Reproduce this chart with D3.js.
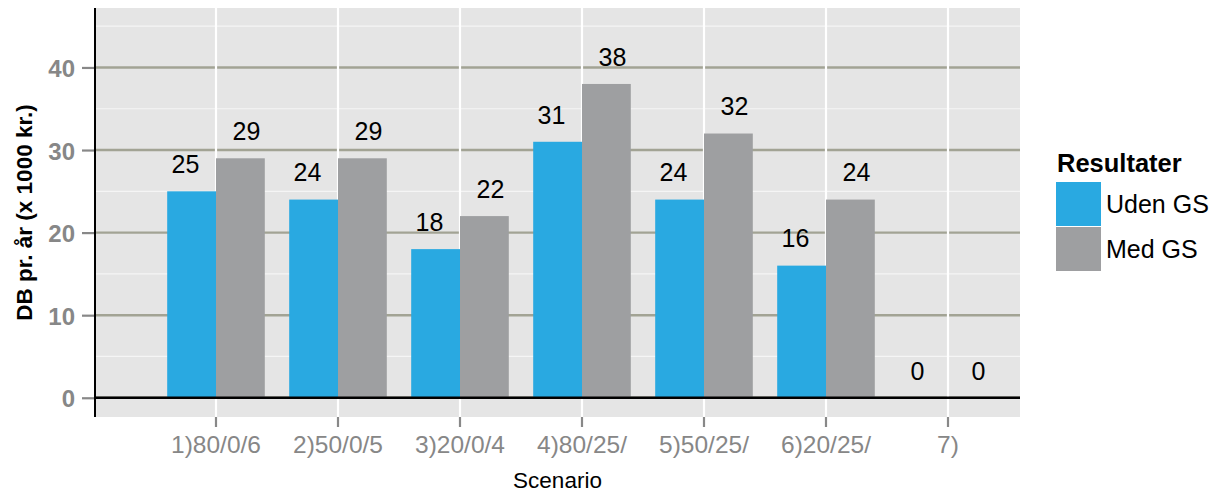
<!DOCTYPE html>
<html>
<head>
<meta charset="utf-8">
<script src="https://cdn.jsdelivr.net/npm/d3@7"></script>
<style>
    body { margin: 0; background: #fff; }
    svg text { font-family: "Liberation Sans", Arial, sans-serif; }
</style>
</head>
<body>
<div id="barChart"></div>
<script>
const categories = ["1)80/0/6", "2)50/0/5", "3)20/0/4", "4)80/25/", "5)50/25/", "6)20/25/", "7)"];
const seriesNames = ["Uden GS", "Med GS"];
const udenGS = [25, 24, 18, 31, 24, 16, 0];
const medGS = [29, 29, 22, 38, 32, 24, 0];
const yTicks = [0, 10, 20, 30, 40];
const yMinorTicks = [5, 15, 25, 35, 45];

class barChart {
    constructor() {
        this.width = 1221;
        this.height = 495;
        this.panel = { left: 95, right: 1020, top: 8, bottom: 417 };

        this.colors = d3.scaleOrdinal().domain(seriesNames).range(["#29a9e1", "#9e9fa1"]);

        // discrete axis, left side has more room than the right (like the original)
        this.x = d3.scaleBand()
            .domain(categories)
            .range([this.panel.left, this.panel.right])
            .paddingInner(0)
            .paddingOuter(0.291)
            .align(0.845);

        this.xBar = d3.scaleBand().domain(seriesNames).range([0, this.x.bandwidth()]).paddingOuter(0.25);
        this.xText = d3.scaleBand().domain(seriesNames).range([0, this.x.bandwidth()]);

        this.y = d3.scaleLinear().domain([-2.33, 47.2]).range([this.panel.bottom, this.panel.top]);

        this.svg = d3.select("#barChart").append("svg")
            .attr("width", this.width)
            .attr("height", this.height);
    }

    draw() {
        let p = this.panel;
        let svg = this.svg;

        svg.append("rect")
            .attr("x", p.left).attr("y", p.top)
            .attr("width", p.right - p.left).attr("height", p.bottom - p.top)
            .attr("fill", "#e5e5e5");

        // minor grid (white)
        svg.append("g").selectAll("line").data(yMinorTicks).enter().append("line")
            .attr("x1", p.left).attr("x2", p.right)
            .attr("y1", d => this.y(d)).attr("y2", d => this.y(d))
            .attr("stroke", "#f5f5f5").attr("stroke-width", 1.2);

        // major grid
        svg.append("g").selectAll("line").data(yTicks).enter().append("line")
            .attr("x1", p.left).attr("x2", p.right)
            .attr("y1", d => this.y(d)).attr("y2", d => this.y(d))
            .attr("stroke", "#a2a394").attr("stroke-width", 2.4);

        svg.append("g").selectAll("line").data(categories).enter().append("line")
            .attr("x1", d => this.x(d) + this.x.bandwidth() / 2)
            .attr("x2", d => this.x(d) + this.x.bandwidth() / 2)
            .attr("y1", p.top).attr("y2", p.bottom)
            .attr("stroke", "#ffffff").attr("stroke-width", 2.2);

        let rows = [];
        categories.forEach((c, i) => {
            rows.push({ cat: c, s: seriesNames[0], v: udenGS[i] });
            rows.push({ cat: c, s: seriesNames[1], v: medGS[i] });
        });

        svg.append("g").selectAll("rect").data(rows).enter().append("rect")
            .attr("x", d => this.x(d.cat) + this.xBar(d.s))
            .attr("width", this.xBar.bandwidth())
            .attr("y", d => this.y(d.v))
            .attr("height", d => this.y(0) - this.y(d.v))
            .attr("fill", d => this.colors(d.s));

        svg.append("g").selectAll("text").data(rows).enter().append("text")
            .attr("x", d => this.x(d.cat) + this.xText(d.s) + this.xText.bandwidth() / 2)
            .attr("y", d => this.y(d.v + 3.3))
            .attr("dy", "0.36em")
            .attr("text-anchor", "middle")
            .attr("font-size", 25)
            .attr("fill", "#000")
            .text(d => d.v);

        // zero line + left axis line
        svg.append("line")
            .attr("x1", p.left).attr("x2", p.right)
            .attr("y1", this.y(0)).attr("y2", this.y(0))
            .attr("stroke", "#000").attr("stroke-width", 2.6);
        svg.append("line")
            .attr("x1", p.left).attr("x2", p.left)
            .attr("y1", p.top).attr("y2", p.bottom)
            .attr("stroke", "#000").attr("stroke-width", 2);

        // axes
        let yAxis = d3.axisLeft(this.y).tickValues(yTicks).tickSize(12).tickPadding(7);
        let yG = svg.append("g").attr("transform", "translate(" + (p.left - 1) + ",0)").call(yAxis);
        yG.select(".domain").remove();
        yG.selectAll(".tick line").attr("stroke", "#888").attr("stroke-width", 2.2);
        yG.selectAll(".tick text")
            .style("font-size", "24px").style("font-weight", "bold")
            .attr("fill", "#878787")
            .attr("dy", "0.38em");

        let xAxis = d3.axisBottom(this.x).tickSize(10).tickPadding(9);
        let xG = svg.append("g").attr("transform", "translate(0," + p.bottom + ")").call(xAxis);
        xG.select(".domain").remove();
        xG.selectAll(".tick line").attr("stroke", "#888").attr("stroke-width", 2.2);
        xG.selectAll(".tick text")
            .style("font-size", "24.5px").attr("fill", "#878787");

        svg.append("text")
            .attr("x", (p.left + p.right) / 2).attr("y", 488)
            .attr("text-anchor", "middle")
            .attr("font-size", 22.5)
            .text("Scenario");

        svg.append("text")
            .attr("transform", "translate(32," + (p.top + p.bottom) / 2 + ") rotate(-90)")
            .attr("text-anchor", "middle")
            .attr("font-size", 22.5)
            .attr("font-weight", "bold")
            .text("DB pr. år (x 1000 kr.)");

        // legend
        let lg = svg.append("g").attr("transform", "translate(1056,0)");
        lg.append("text").attr("x", 1).attr("y", 172)
            .attr("font-size", 25.5).attr("font-weight", "bold")
            .text("Resultater");
        lg.selectAll("rect").data(seriesNames).enter().append("rect")
            .attr("x", 0).attr("y", (d, i) => 182 + i * 45)
            .attr("width", 45).attr("height", 44)
            .attr("fill", d => this.colors(d));
        lg.selectAll("text.lab").data(seriesNames).enter().append("text")
            .attr("class", "lab")
            .attr("x", 50).attr("y", (d, i) => 204 + i * 45)
            .attr("dy", "0.36em")
            .attr("font-size", 25)
            .text(d => d);
    }
}

let chart = new barChart();
chart.draw();
</script>
</body>
</html>
